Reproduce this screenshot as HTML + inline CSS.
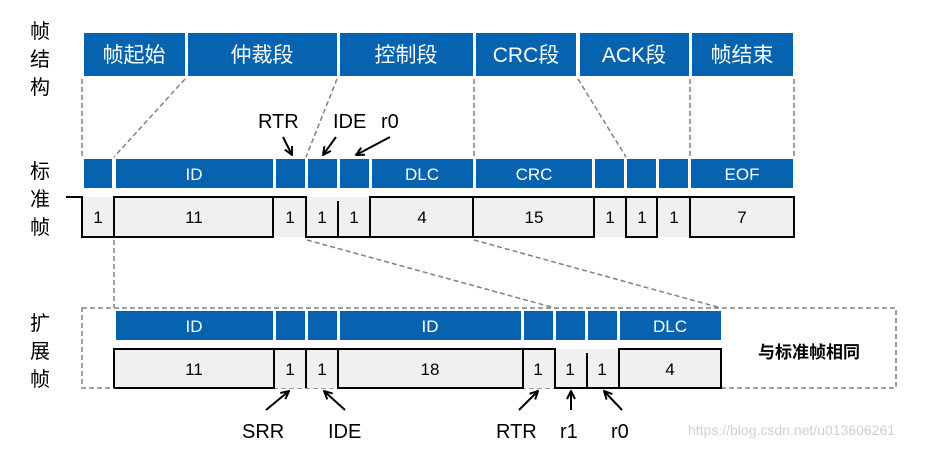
<!DOCTYPE html>
<html><head><meta charset="utf-8"><style>
html,body{margin:0;padding:0;background:#fff;}
svg{display:block;}
text{font-family:"Liberation Sans","Noto Sans CJK SC",sans-serif;}
</style></head><body>
<svg width="928" height="449" viewBox="0 0 928 449" xmlns="http://www.w3.org/2000/svg">
<defs>
<marker id="ah" markerWidth="10" markerHeight="10" refX="9" refY="5" orient="auto" markerUnits="userSpaceOnUse">
<path d="M1,1 L9,5 L1,9" fill="none" stroke="#000" stroke-width="2"/>
</marker>
</defs>
<!-- left labels -->
<g font-size="20" fill="#000" text-anchor="middle">
<text x="40" y="38">帧</text><text x="40" y="66">结</text><text x="40" y="94">构</text>
<text x="40" y="178">标</text><text x="40" y="206">准</text><text x="40" y="234">帧</text>
<text x="40" y="330">扩</text><text x="40" y="358">展</text><text x="40" y="386">帧</text>
</g>
<!-- top header -->
<g fill="#0563af">
<rect x="84" y="33" width="101" height="43"/>
<rect x="188" y="33" width="149" height="43"/>
<rect x="340" y="33" width="133" height="43"/>
<rect x="476" y="33" width="100" height="43"/>
<rect x="580" y="33" width="109" height="43"/>
<rect x="692" y="33" width="101" height="43"/>
</g>
<g fill="#fff" font-size="21" text-anchor="middle">
<text x="134" y="62">帧起始</text>
<text x="262" y="62">仲裁段</text>
<text x="406" y="62">控制段</text>
<text x="526" y="62">CRC段</text>
<text x="634" y="62">ACK段</text>
<text x="742" y="62">帧结束</text>
</g>
<!-- dashed guides -->
<g stroke="#808080" stroke-width="1.5" stroke-dasharray="5,3" fill="none">
<line x1="82" y1="79" x2="82" y2="157"/>
<line x1="185" y1="79" x2="114" y2="157"/>
<line x1="337" y1="79" x2="306" y2="157"/>
<line x1="474" y1="79" x2="474" y2="157"/>
<line x1="578" y1="79" x2="626" y2="157"/>
<line x1="690" y1="79" x2="690" y2="157"/>
<line x1="794" y1="79" x2="794" y2="157"/>
<line x1="114" y1="240" x2="114" y2="308"/>
<line x1="307" y1="240" x2="555" y2="308"/>
<line x1="474" y1="240" x2="721" y2="308"/>
<rect x="82" y="308" width="814" height="80"/>
</g>
<!-- standard blue bars -->
<g fill="#0563af">
<rect x="84" y="159" width="28" height="29"/>
<rect x="116" y="159" width="157" height="29"/>
<rect x="276" y="159" width="29" height="29"/>
<rect x="308" y="159" width="29" height="29"/>
<rect x="340" y="159" width="29" height="29"/>
<rect x="372" y="159" width="101" height="29"/>
<rect x="476" y="159" width="116" height="29"/>
<rect x="595" y="159" width="29" height="29"/>
<rect x="627" y="159" width="29" height="29"/>
<rect x="659" y="159" width="29" height="29"/>
<rect x="691" y="159" width="102" height="29"/>
</g>
<g fill="#fff" font-size="17" text-anchor="middle">
<text x="194" y="180">ID</text>
<text x="422" y="180">DLC</text>
<text x="534" y="180">CRC</text>
<text x="742" y="180">EOF</text>
</g>
<!-- standard waveform -->
<rect x="82" y="197" width="712" height="40" fill="#f0f0f0"/>
<g fill="none" stroke="#000" stroke-width="2">
<path d="M66,197 H82 V237 H114 V197 H273 V237 H114"/>
<path d="M273,197 H306 V237 H370 V197 H473 V237 H370"/>
<path d="M338,201 V237"/>
<path d="M473,197 H594 V237 H473"/>
<path d="M594,197 H626 V237 H657 V197 H626"/>
<path d="M657,197 H794 V237 H690 V197"/>
</g>
<g font-size="17" text-anchor="middle" fill="#000">
<text x="98" y="223">1</text><text x="194" y="223">11</text>
<text x="290" y="223">1</text><text x="322" y="223">1</text><text x="354" y="223">1</text>
<text x="422" y="223">4</text><text x="534" y="223">15</text>
<text x="610" y="223">1</text><text x="642" y="223">1</text><text x="674" y="223">1</text>
<text x="742" y="223">7</text>
</g>
<!-- standard labels/arrows -->
<g font-size="20" fill="#000">
<text x="258" y="128">RTR</text>
<text x="333" y="128">IDE</text>
<text x="381" y="128">r0</text>
</g>
<g stroke="#000" stroke-width="2" marker-end="url(#ah)">
<line x1="283" y1="137" x2="292" y2="155"/>
<line x1="336" y1="137" x2="323" y2="155"/>
<line x1="390" y1="137" x2="356" y2="155"/>
</g>
<!-- extended blue bars -->
<g fill="#0563af">
<rect x="116" y="311" width="157" height="29"/>
<rect x="276" y="311" width="29" height="29"/>
<rect x="308" y="311" width="29" height="29"/>
<rect x="340" y="311" width="181" height="29"/>
<rect x="524" y="311" width="29" height="29"/>
<rect x="556" y="311" width="29" height="29"/>
<rect x="588" y="311" width="29" height="29"/>
<rect x="620" y="311" width="101" height="29"/>
</g>
<g fill="#fff" font-size="17" text-anchor="middle">
<text x="194" y="332">ID</text>
<text x="430" y="332">ID</text>
<text x="670" y="332">DLC</text>
</g>
<rect x="114" y="349" width="608" height="39" fill="#f0f0f0"/>
<g fill="none" stroke="#000" stroke-width="2">
<path d="M114,388 V349 H274 V388 H114"/>
<path d="M274,349 H338 V388 H523 V349 H338"/>
<path d="M306,349 V388"/>
<path d="M523,349 H555 V388 H619 V349 H721 V388 H619"/>
<path d="M587,353 V388"/>
</g>
<g font-size="17" text-anchor="middle" fill="#000">
<text x="194" y="375">11</text><text x="290" y="375">1</text><text x="322" y="375">1</text>
<text x="430" y="375">18</text><text x="538" y="375">1</text><text x="570" y="375">1</text>
<text x="602" y="375">1</text><text x="670" y="375">4</text>
</g>
<text x="809" y="358" font-size="17" font-weight="bold" text-anchor="middle">与标准帧相同</text>
<g stroke="#000" stroke-width="2" marker-end="url(#ah)">
<line x1="266" y1="410" x2="289" y2="391"/>
<line x1="345" y1="410" x2="324" y2="391"/>
<line x1="519" y1="410" x2="538" y2="391"/>
<line x1="571" y1="410" x2="571" y2="391"/>
<line x1="622" y1="410" x2="604" y2="391"/>
</g>
<g font-size="20" fill="#000">
<text x="242" y="438">SRR</text>
<text x="328" y="438">IDE</text>
<text x="496" y="438">RTR</text>
<text x="560" y="438">r1</text>
<text x="611" y="438">r0</text>
</g>
<text x="688" y="435" font-size="14" fill="#d0d0d0">https://blog.csdn.net/u013606261</text>
</svg>
</body></html>
